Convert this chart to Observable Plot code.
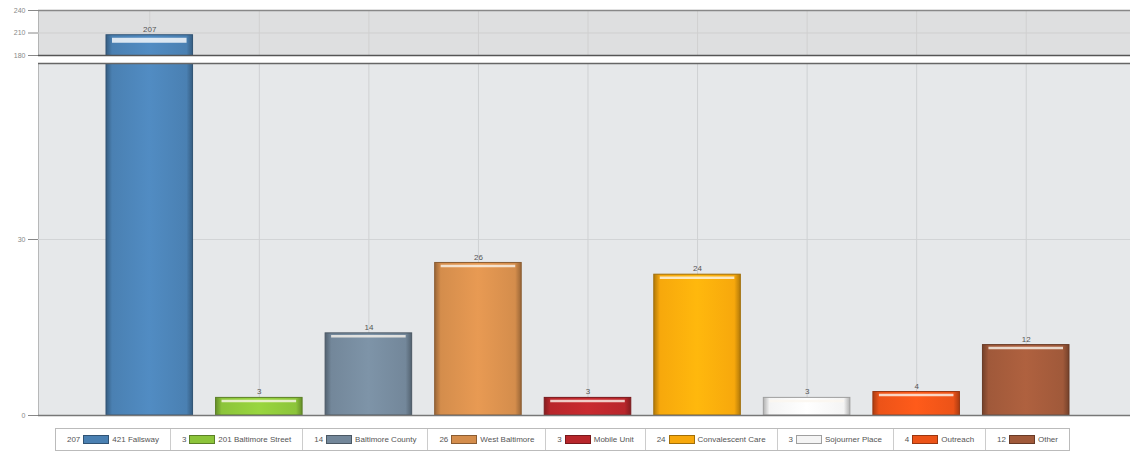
<!DOCTYPE html>
<html>
<head>
<meta charset="utf-8">
<script src="https://cdn.jsdelivr.net/npm/d3@7"></script>
<script src="https://cdn.jsdelivr.net/npm/@observablehq/plot@0.6"></script>
<style>
  body { margin: 0; background: #fff; font-family: "Liberation Sans", Arial, sans-serif; }
  #wrap { width: 1130px; }
  #wrap svg { display: block; }
  #legend { margin: 5px 0 0 55px; width: 1015px; box-sizing: border-box; display: flex; border: 1px solid #bbb; height: 23px; align-items: stretch; font-size: 8px; color: #555; }
  #legend .item { flex: auto; display: flex; justify-content: center; align-items: center; gap: 3px; padding: 0 6px; border-right: 1px solid #ccc; white-space: nowrap; }
  #legend .item:last-child { border-right: none; }
  #legend .sw { width: 24px; height: 7px; border: 1px solid #666; display: inline-block; }
</style>
</head>
<body>
<div id="wrap"></div>
<script>
const categories = ["421 Fallsway", "201 Baltimore Street", "Baltimore County", "West Baltimore", "Mobile Unit", "Convalescent Care", "Sojourner Place", "Outreach", "Other"];
const values = [207, 3, 14, 26, 3, 24, 3, 4, 12];
const colors = ["#4a80b2", "#8cc43a", "#73879a", "#d48d4c", "#b8262b", "#f7a80c", "#f4f4f4", "#ec5318", "#a0593a"];
const topTicks = [180, 210, 240];
const bottomTicks = [0, 30];

const data = categories.map((c, i) => ({category: c, value: values[i]}));
const gradIds = categories.map((c, i) => `grad${i}`);

function addDefs(svg) {
  const ns = "http://www.w3.org/2000/svg";
  const defs = document.createElementNS(ns, "defs");
  colors.forEach((col, i) => {
    const base = d3.color(col);
    const dark = base.darker(0.9).formatHex();
    const light = base.brighter(0.25).formatHex();
    const g = document.createElementNS(ns, "linearGradient");
    g.setAttribute("id", gradIds[i]);
    g.setAttribute("x1", "0"); g.setAttribute("x2", "1");
    g.setAttribute("y1", "0"); g.setAttribute("y2", "0");
    [[0, dark], [0.07, col], [0.5, light], [0.93, col], [1, dark]].forEach(([o, c]) => {
      const s = document.createElementNS(ns, "stop");
      s.setAttribute("offset", o); s.setAttribute("stop-color", c);
      g.appendChild(s);
    });
    defs.appendChild(g);
  });
  svg.insertBefore(defs, svg.firstChild);
}

const xOpts = {domain: categories, range: [106, 1069], paddingInner: 0.21, paddingOuter: 0, round: false, axis: null};
const colorOpts = {domain: categories, range: gradIds.map(id => `url(#${id})`)};
const strokeOf = d => d3.color(colors[categories.indexOf(d.category)]).darker(1.2).formatHex();
const fontStyle = {fontSize: "7px", color: "#888", fontFamily: "Liberation Sans, Arial, sans-serif", background: "transparent"};

const topChart = Plot.plot({
  width: 1130, height: 58,
  marginTop: 10, marginBottom: 3, marginLeft: 38, marginRight: 0,
  x: xOpts,
  y: {domain: [180, 240], ticks: topTicks, tickSize: 10, tickFormat: d => d, label: null, line: true},
  color: colorOpts,
  style: fontStyle,
  marks: [
    Plot.frame({fill: "#dedfe0", stroke: null}),
    Plot.ruleY([210], {stroke: "#cfcfcf"}),
    Plot.ruleX(categories, {x: d => d, stroke: "#d0d0d0"}),
    Plot.barY(data, {x: "category", y: "value", fill: "category", stroke: strokeOf, strokeWidth: 1, clip: true}),
    Plot.tickY(data, {x: "category", y: "value", dy: 5, stroke: "#f4f8fc", strokeOpacity: 0.85, strokeWidth: 5, inset: 6, clip: true}),
    Plot.text(data.filter(d => d.value > 180), {x: "category", y: "value", text: d => String(d.value), dy: -6, fill: "#555", fontSize: 8}),
    Plot.ruleY([240], {stroke: "#888", strokeWidth: 1.5}),
    Plot.ruleY([180], {stroke: "#555", strokeWidth: 1.5})
  ]
});

const bottomChart = Plot.plot({
  width: 1130, height: 365,
  marginTop: 5, marginBottom: 8, marginLeft: 38, marginRight: 0,
  x: xOpts,
  y: {domain: [0, 60], ticks: bottomTicks, tickSize: 10, tickFormat: d => d, label: null, line: true},
  color: colorOpts,
  style: fontStyle,
  marks: [
    Plot.frame({fill: "#e6e8ea", stroke: null}),
    Plot.ruleY([30], {stroke: "#d2d4d6"}),
    Plot.ruleX(categories, {x: d => d, stroke: "#cfd1d3"}),
    Plot.barY(data, {x: "category", y: "value", fill: "category", stroke: strokeOf, strokeWidth: 1, clip: true}),
    Plot.tickY(data.filter(d => d.value <= 60), {x: "category", y: "value", dy: 3, stroke: "#fbf6ef", strokeOpacity: 0.8, strokeWidth: 2.5, inset: 6}),
    Plot.text(data.filter(d => d.value <= 60), {x: "category", y: "value", text: d => String(d.value), dy: -6, fill: "#555", fontSize: 8}),
    Plot.ruleY([60], {stroke: "#666", strokeWidth: 1.5}),
    Plot.ruleY([0], {stroke: "#777", strokeWidth: 1.5})
  ]
});

addDefs(topChart);
addDefs(bottomChart);
const wrap = document.getElementById("wrap");
wrap.appendChild(topChart);
wrap.appendChild(bottomChart);

const legend = document.createElement("div");
legend.id = "legend";
categories.forEach((c, i) => {
  const item = document.createElement("div");
  item.className = "item";
  const v = document.createElement("span"); v.textContent = values[i];
  const sw = document.createElement("span"); sw.className = "sw";
  sw.style.background = colors[i];
  sw.style.borderColor = d3.color(colors[i]).darker(1.2).formatHex();
  const t = document.createElement("span"); t.textContent = c;
  item.append(v, sw, t);
  legend.appendChild(item);
});
wrap.appendChild(legend);
</script>
</body>
</html>
